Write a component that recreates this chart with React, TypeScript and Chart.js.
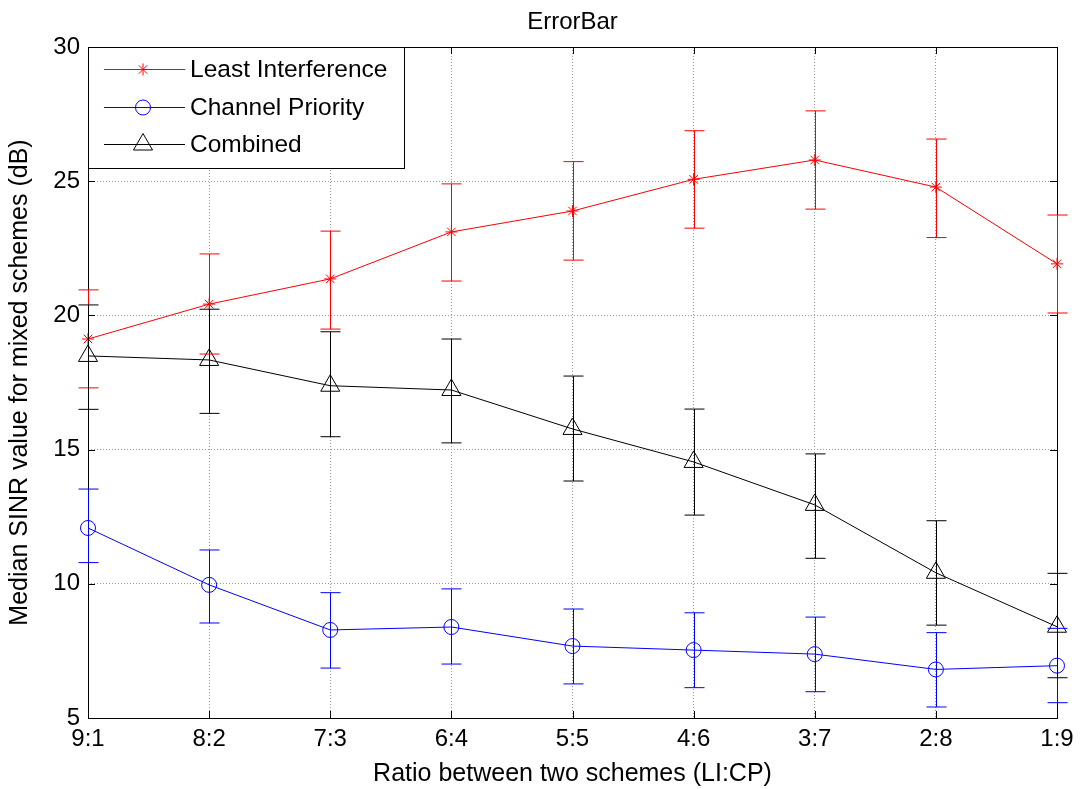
import React, { useEffect, useRef } from "react";
import { Chart, registerables } from "chart.js";

Chart.register(...registerables);

const categories = ["9:1", "8:2", "7:3", "6:4", "5:5", "4:6", "3:7", "2:8", "1:9"];

const liMean = [19.12, 20.42, 21.36, 23.11, 23.89, 25.07, 25.79, 24.78, 21.92];
const liUpper = [20.95, 22.29, 23.14, 24.9, 25.73, 26.88, 27.62, 26.57, 23.74];
const liLower = [17.3, 18.56, 19.49, 21.28, 22.06, 23.25, 23.96, 22.9, 20.09];

const cpMean = [12.08, 9.96, 8.28, 8.39, 7.68, 7.53, 7.38, 6.81, 6.95];
const cpUpper = [13.53, 11.26, 9.67, 9.81, 9.06, 8.92, 8.76, 8.18, 8.34];
const cpLower = [10.79, 8.54, 6.86, 7.01, 6.27, 6.13, 5.98, 5.41, 5.57];

const cbMean = [18.49, 18.34, 17.38, 17.22, 15.77, 14.54, 12.94, 10.41, 8.4];
const cbUpper = [20.39, 20.23, 19.39, 19.12, 17.74, 16.51, 14.84, 12.35, 10.39];
const cbLower = [16.5, 16.35, 15.48, 15.25, 13.83, 12.56, 10.95, 8.46, 6.5];

const yTicks = [5, 10, 15, 20, 25, 30];

const legendLabels = ["Least Interference", "Channel Priority", "Combined"];
const FONT = "'Liberation Sans', Arial, sans-serif";

const errorSets = [
  { upper: liUpper, lower: liLower, color: "#ff0000" },
  { upper: cpUpper, lower: cpLower, color: "#0000ff" },
  { upper: cbUpper, lower: cbLower, color: "#000000" },
];

function drawMarker(ctx: CanvasRenderingContext2D, style: string, r: number, x: number, y: number) {
  ctx.beginPath();
  if (style === "circle") {
    ctx.arc(x, y, r, 0, Math.PI * 2);
  } else if (style === "triangle") {
    const h = r * 1.5;
    const w = r * Math.sqrt(3) / 2;
    ctx.moveTo(x, y - r);
    ctx.lineTo(x + w, y - r + h);
    ctx.lineTo(x - w, y - r + h);
    ctx.closePath();
  } else {
    for (let k = 0; k < 4; k++) {
      const a = (k * Math.PI) / 4;
      ctx.moveTo(x - r * Math.cos(a), y - r * Math.sin(a));
      ctx.lineTo(x + r * Math.cos(a), y + r * Math.sin(a));
    }
  }
  ctx.stroke();
}

const customPlugin = {
  id: "matlabStyle",
  beforeDatasetsDraw(chart: any) {
    const { ctx, chartArea } = chart;
    ctx.save();
    ctx.strokeStyle = "#000";
    ctx.lineWidth = 1;
    ctx.strokeRect(chartArea.left + 0.5, chartArea.top + 0.5, chartArea.right - chartArea.left, chartArea.bottom - chartArea.top);
    const xs = chart.scales.x;
    const ys = chart.scales.y;
    const tl = 7;
    ctx.beginPath();
    for (let i = 0; i < categories.length; i++) {
      const x = Math.round(xs.getPixelForValue(i)) + 0.5;
      ctx.moveTo(x, chartArea.bottom);
      ctx.lineTo(x, chartArea.bottom - tl);
      ctx.moveTo(x, chartArea.top);
      ctx.lineTo(x, chartArea.top + tl);
    }
    for (const v of yTicks) {
      const y = Math.round(ys.getPixelForValue(v)) + 0.5;
      ctx.moveTo(chartArea.left, y);
      ctx.lineTo(chartArea.left + tl, y);
      ctx.moveTo(chartArea.right, y);
      ctx.lineTo(chartArea.right - tl, y);
    }
    ctx.stroke();
    ctx.fillStyle = "#000";
    ctx.font = `24px ${FONT}`;
    ctx.textAlign = "center";
    ctx.textBaseline = "middle";
    ctx.fillText("ErrorBar", (chartArea.left + chartArea.right) / 2, 22);
    ctx.restore();
  },
  afterDatasetsDraw(chart: any) {
    const { ctx, chartArea } = chart;
    const xs = chart.scales.x;
    const ys = chart.scales.y;
    ctx.save();
    ctx.lineWidth = 1;
    errorSets.forEach((s) => {
      ctx.strokeStyle = s.color;
      ctx.beginPath();
      for (let i = 0; i < categories.length; i++) {
        const x = Math.round(xs.getPixelForValue(i)) + 0.5;
        const yu = ys.getPixelForValue(s.upper[i]);
        const yl = ys.getPixelForValue(s.lower[i]);
        ctx.moveTo(x, yu);
        ctx.lineTo(x, yl);
        ctx.moveTo(x - 10, yu);
        ctx.lineTo(x + 10, yu);
        ctx.moveTo(x - 10, yl);
        ctx.lineTo(x + 10, yl);
      }
      ctx.stroke();
    });
    const lx = chartArea.left;
    const ly = chartArea.top;
    const lw = 316;
    const lh = 121;
    ctx.fillStyle = "#fff";
    ctx.fillRect(lx, ly, lw, lh);
    ctx.strokeStyle = "#000";
    ctx.strokeRect(lx + 0.5, ly + 0.5, lw, lh);
    const rows = [22, 60, 97];
    const ds = chart.data.datasets;
    rows.forEach((ry, k) => {
      const y = ly + ry + 0.5;
      const d = ds[k];
      ctx.strokeStyle = d.borderColor;
      ctx.lineWidth = 1;
      ctx.beginPath();
      ctx.moveTo(lx + 16, y);
      ctx.lineTo(lx + 97, y);
      ctx.stroke();
      drawMarker(ctx, d.pointStyle, d.pointRadius, lx + 55, y);
      ctx.fillStyle = "#000";
      ctx.font = `24.5px ${FONT}`;
      ctx.textAlign = "left";
      ctx.textBaseline = "middle";
      ctx.fillText(legendLabels[k], lx + 102, y + 1);
    });
    ctx.restore();
  },
};

export default function App() {
  const ref = useRef<HTMLCanvasElement | null>(null);
  useEffect(() => {
    document.body.style.margin = "0";
    const canvas = ref.current!;
    const mk = (label: string, data: number[], color: string, style: string, r: number) => ({
      label,
      data,
      borderColor: color,
      backgroundColor: "rgba(0,0,0,0)",
      borderWidth: 1,
      pointStyle: style,
      pointRadius: r,
      pointBorderColor: color,
      pointBackgroundColor: "rgba(0,0,0,0)",
      pointBorderWidth: 1,
      tension: 0,
    });
    const chart = new Chart(canvas, {
      type: "line",
      data: {
        labels: categories,
        datasets: [
          mk(legendLabels[0], liMean, "#ff0000", "star", 6),
          mk(legendLabels[1], cpMean, "#0000ff", "circle", 7.5),
          mk(legendLabels[2], cbMean, "#000000", "triangle", 11),
        ],
      },
      options: {
        animation: false,
        responsive: false,
        devicePixelRatio: 1,
        layout: { padding: { top: 47, right: 24, left: 0, bottom: 0 } },
        plugins: { legend: { display: false }, tooltip: { enabled: false }, title: { display: false } },
        scales: {
          x: {
            type: "category",
            offset: false,
            grid: { color: "#9a9a9a", drawTicks: false },
            border: { display: false, dash: [1, 2] },
            ticks: { color: "#000", font: { family: FONT, size: 24 }, padding: 7, maxRotation: 0, autoSkip: false },
            title: { display: true, text: "Ratio between two schemes (LI:CP)", color: "#000", font: { family: FONT, size: 25, lineHeight: 1 }, padding: { top: 2, bottom: 2.5 } },
            afterFit: (s: any) => { s.height = 71; },
          },
          y: {
            min: 5,
            max: 30,
            grid: { color: "#9a9a9a", drawTicks: false },
            border: { display: false, dash: [1, 2] },
            ticks: { stepSize: 5, color: "#000", font: { family: FONT, size: 24 }, padding: 8 },
            title: { display: true, text: "Median SINR value for mixed schemes (dB)", color: "#000", font: { family: FONT, size: 25, lineHeight: 1 }, padding: { top: 7.5, bottom: 0 } },
            afterFit: (s: any) => { s.width = 88; },
          },
        },
      },
      plugins: [customPlugin],
    } as any);
    return () => chart.destroy();
  }, []);
  return <canvas ref={ref} width={1081} height={789} style={{ display: "block" }} />;
}
